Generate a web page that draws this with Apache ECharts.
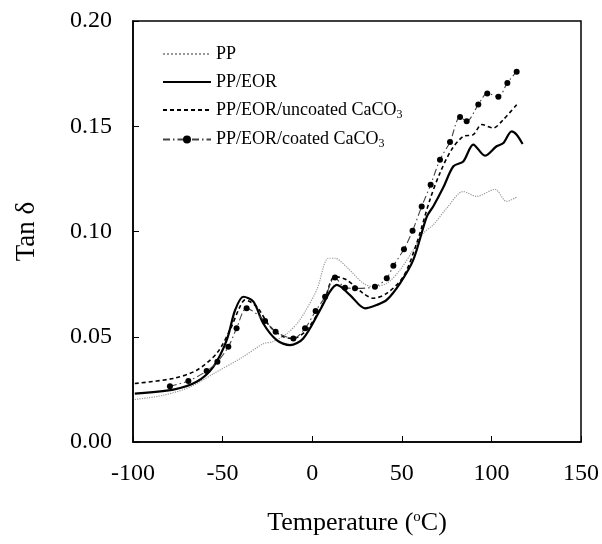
<!DOCTYPE html>
<html>
<head>
<meta charset="utf-8">
<script src="https://cdn.jsdelivr.net/npm/echarts@6/dist/echarts.min.js"></script>
<style>
  html, body { margin: 0; padding: 0; background: #fff; }
  #main { width: 602px; height: 544px; }
</style>
</head>
<body>
<div id="main"></div>
<script>
// data: [temperature, tan delta]
var ppData = [
  [-99, 0.0202], [-83, 0.0222], [-68, 0.0262], [-55, 0.0325], [-40, 0.0397],
  [-27, 0.0468], [-22, 0.0476], [-14, 0.0516], [-7, 0.0579], [2.5, 0.0722],
  [9, 0.0873], [12.7, 0.0873], [19, 0.0833], [28.5, 0.0754], [34, 0.0738],
  [41.6, 0.0754], [49, 0.0817], [56.4, 0.0913], [62, 0.0992], [67.6, 0.1032],
  [75, 0.111], [84.3, 0.119], [91.7, 0.1167], [102, 0.12], [108.5, 0.1143],
  [114, 0.1163]
];
var eorData = [
  [-99, 0.023], [-77.5, 0.0249], [-64.5, 0.0286], [-55.2, 0.0357], [-47.7, 0.0484],
  [-43, 0.0627], [-38.4, 0.069], [-32.8, 0.0667], [-27.3, 0.0563], [-19.8, 0.0484],
  [-12.4, 0.046], [-5, 0.0492], [4.4, 0.0627], [9.9, 0.0714], [13.7, 0.0746],
  [21.1, 0.0698], [29.5, 0.0635], [36, 0.0651], [41.6, 0.0675], [49, 0.0754],
  [56.4, 0.0865], [63.9, 0.107], [67.6, 0.112], [73.2, 0.121], [78.8, 0.131],
  [84.3, 0.1333], [89.9, 0.1413], [96.4, 0.136], [102.9, 0.1405], [106.7, 0.142],
  [111.3, 0.1476], [114.1, 0.146], [117.4, 0.1416]
];
var uncoatedData = [
  [-99, 0.0278], [-77.5, 0.0302], [-64.5, 0.0341], [-53.3, 0.0421], [-45.9, 0.0532],
  [-40.3, 0.0643], [-37.5, 0.0675], [-31, 0.0643], [-23.5, 0.0548], [-16.1, 0.05],
  [-10.5, 0.0492], [-3.1, 0.0532], [6.2, 0.0659], [12.7, 0.0786], [19.2, 0.077],
  [28.5, 0.0706], [34.1, 0.0683], [41.6, 0.0706], [50.9, 0.0786], [58.3, 0.0944],
  [65.7, 0.1151], [71.3, 0.1278], [77.8, 0.1389], [84.3, 0.1452], [89.9, 0.146],
  [94.6, 0.1508], [101.1, 0.1492], [106.7, 0.1532], [115, 0.1611]
];
var coatedData = [
  [-79.4, 0.0265], [-69.1, 0.029], [-58.9, 0.0337], [-52.9, 0.0381], [-46.8, 0.0452],
  [-42.2, 0.054], [-36.6, 0.0635], [-26.3, 0.0575], [-20.4, 0.0524], [-10.5, 0.0492],
  [-4, 0.054], [1.9, 0.0622], [7.2, 0.069], [12.7, 0.0781], [18.3, 0.0733],
  [23.9, 0.073], [35, 0.0738], [41.6, 0.0778], [45.3, 0.0837], [51.2, 0.0916],
  [56, 0.1003], [61.1, 0.1119], [66.1, 0.1222], [71.3, 0.1341], [76.9, 0.1425],
  [82.5, 0.1544], [86.2, 0.1524], [92.7, 0.1603], [97.7, 0.1656], [103.9, 0.164],
  [108.9, 0.1706], [114.1, 0.1759]
];
var seriesNames = ['PP', 'PP/EOR', 'PP/EOR/uncoated CaCO3', 'PP/EOR/coated CaCO3'];

var serif = '"Liberation Serif", "DejaVu Serif", serif';
var myChart = echarts.init(document.getElementById('main'));

var noMark = { opacity: 0 };

var option = {
  animation: false,
  backgroundColor: '#fff',
  grid: {
    left: 133, right: 21, top: 21, bottom: 102,
    show: true, borderColor: '#000', borderWidth: 1.5
  },
  legend: {
    orient: 'vertical',
    left: 162, top: 45, padding: 0,
    itemWidth: 48, itemHeight: 10, itemGap: 10,
    textStyle: {
      fontFamily: serif, fontSize: 18, color: '#000',
      rich: {
        t: { fontFamily: serif, fontSize: 18, color: '#000' },
        sub: { fontFamily: serif, fontSize: 12, color: '#000', verticalAlign: 'bottom', padding: [9, 0, 0, 0] }
      }
    },
    formatter: function (name) {
      if (name.slice(-1) === '3') {
        return '{t|' + name.slice(0, -1) + '}{sub|3}';
      }
      return '{t|' + name + '}';
    },
    data: [
      { name: seriesNames[0], itemStyle: noMark },
      { name: seriesNames[1], itemStyle: noMark },
      { name: seriesNames[2], itemStyle: noMark },
      { name: seriesNames[3] }
    ]
  },
  xAxis: {
    type: 'value',
    min: -100, max: 150, interval: 50,
    name: '{t|Temperature (}{sup|o}{t|C)}',
    nameLocation: 'middle',
    nameGap: 68,
    nameTextStyle: {
      fontFamily: serif, fontSize: 26, color: '#000',
      rich: {
        t: { fontFamily: serif, fontSize: 26, color: '#000' },
        sup: { fontFamily: serif, fontSize: 15, color: '#000', verticalAlign: 'top', padding: [0, 0, 12, 0] }
      }
    },
    axisLine: { onZero: false, lineStyle: { color: '#000', width: 1.5 } },
    axisTick: { inside: true, length: 6, lineStyle: { color: '#000' } },
    axisLabel: { fontFamily: serif, fontSize: 24, color: '#000', margin: 20 },
    splitLine: { show: false }
  },
  yAxis: {
    type: 'value',
    min: 0, max: 0.2, interval: 0.05,
    name: 'Tan δ',
    nameLocation: 'middle',
    nameGap: 93,
    nameTextStyle: { fontFamily: serif, fontSize: 27, color: '#000' },
    axisLine: { onZero: false, lineStyle: { color: '#000', width: 1.5 } },
    axisTick: { inside: true, length: 6, lineStyle: { color: '#000' } },
    axisLabel: {
      fontFamily: serif, fontSize: 24, color: '#000', margin: 21,
      formatter: function (v) { return v.toFixed(2); }
    },
    splitLine: { show: false }
  },
  series: [
    {
      name: seriesNames[0], type: 'line', data: ppData, smooth: 0.3,
      symbol: 'none',
      lineStyle: { color: '#999', width: 1.2, type: 'dotted' },
      itemStyle: { color: '#999' }
    },
    {
      name: seriesNames[1], type: 'line', data: eorData, smooth: 0.3,
      symbol: 'none',
      lineStyle: { color: '#000', width: 2.2, type: 'solid' },
      itemStyle: { color: '#000' }
    },
    {
      name: seriesNames[2], type: 'line', data: uncoatedData, smooth: 0.3,
      symbol: 'none',
      lineStyle: { color: '#000', width: 1.6, type: [4, 3] },
      itemStyle: { color: '#000' }
    },
    {
      name: seriesNames[3], type: 'line', data: coatedData, smooth: 0.3,
      symbol: 'circle', symbolSize: 6, showSymbol: true,
      lineStyle: { color: '#444', width: 1.1, type: [7, 3, 1.5, 3] },
      itemStyle: { color: '#000' }
    }
  ]
};
myChart.setOption(option);
</script>
</body>
</html>
